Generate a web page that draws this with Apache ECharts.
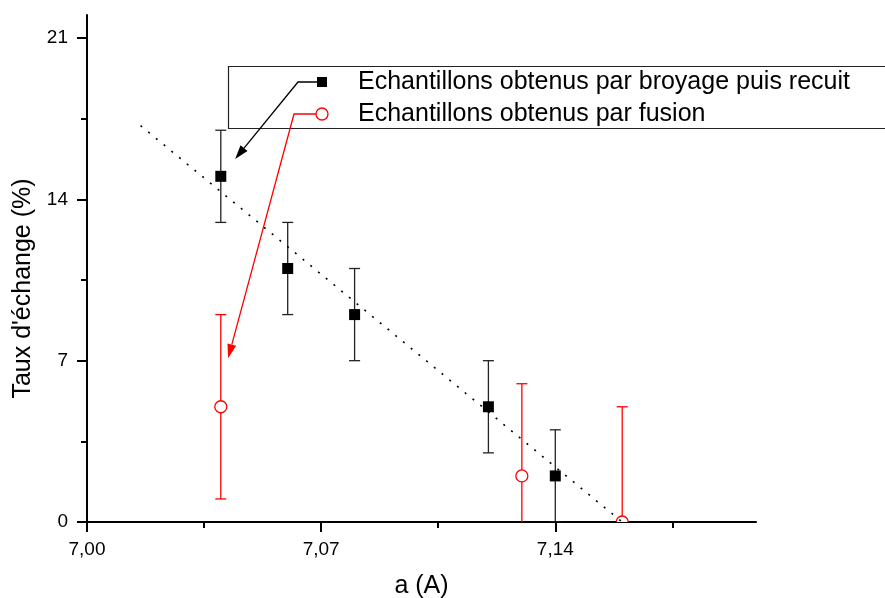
<!DOCTYPE html>
<html><head><meta charset="utf-8">
<script src="https://cdn.jsdelivr.net/npm/echarts@6/dist/echarts.min.js"></script>
<style>html,body{margin:0;padding:0;background:#fff;overflow:hidden}#c{width:885px;height:598px}</style>
</head><body><div id="c"></div>
<script>
const seriesNames = ['Echantillons obtenus par broyage puis recuit', 'Echantillons obtenus par fusion'];
const xTitle = 'a (A)';
const yTitle = "Taux d'échange (%)";
const broyX = [7.04, 7.06, 7.08, 7.12, 7.14];
const broyY = [15, 11, 9, 5, 2];
const broyErr = [2, 2, 2, 2, 2];
const fusionX = [7.04, 7.13, 7.16];
const fusionY = [5, 2, 0];
const fusionErr = [4, 4, 5];
const fitX = [7.016, 7.16];
const fitY = [17.2, 0];
const xMajorTicks = [7.00, 7.07, 7.14];
const xMinorTicks = [7.035, 7.105, 7.175];
const yMajorTicks = [0, 7, 14, 21];
const yMinorTicks = [3.5, 10.5, 17.5];
const arrowTips = [[7.0443, 15.75], [7.0422, 7.11]];

const FONT = "'Liberation Sans', Arial, sans-serif";
const RED = '#ff0000';
const chart = echarts.init(document.getElementById('c'), null, {renderer: 'canvas'});

function errRender(color, kind) {
  return function (params, api) {
    const x = api.value(0), y = api.value(1), e = api.value(2);
    const top = api.coord([x, y + e]);
    const bot = api.coord([x, y - e]);
    const c = api.coord([x, y]);
    const cw = 5.5;
    const st = {stroke: color, lineWidth: 1.3};
    const children = [
      {type: 'line', shape: {x1: top[0], y1: top[1], x2: bot[0], y2: bot[1]}, style: st},
      {type: 'line', shape: {x1: top[0] - cw, y1: top[1], x2: top[0] + cw, y2: top[1]}, style: st},
      {type: 'line', shape: {x1: bot[0] - cw, y1: bot[1], x2: bot[0] + cw, y2: bot[1]}, style: st}
    ];
    if (kind === 'square') {
      children.push({type: 'rect', shape: {x: c[0] - 5.5, y: c[1] - 5.5, width: 11, height: 11}, style: {fill: '#000'}});
    } else {
      children.push({type: 'circle', shape: {cx: c[0], cy: c[1], r: 6}, style: {fill: '#fff', stroke: color, lineWidth: 1.3}});
    }
    return {type: 'group', children: children};
  };
}

const fmt = v => v.toFixed(2).replace('.', ',');
const gridBox = {left: 87, right: 129, top: 15, bottom: 76, outerBoundsMode: 'none', containLabel: false};

const option = {
  animation: false,
  backgroundColor: '#fff',
  grid: [Object.assign({}, gridBox), Object.assign({}, gridBox)],
  xAxis: [
    {
      type: 'value', gridIndex: 0, min: 7.0, max: 7.2,
      name: xTitle, nameLocation: 'middle', nameGap: 52,
      nameTextStyle: {fontSize: 25, fontFamily: FONT, color: '#000'},
      splitLine: {show: false},
      axisLine: {onZero: false, lineStyle: {color: '#000', width: 2}},
      axisTick: {show: true, length: 10, lineStyle: {color: '#000', width: 2}, customValues: xMajorTicks},
      axisLabel: {fontSize: 19, fontFamily: FONT, color: '#000', margin: 18, customValues: xMajorTicks, formatter: fmt}
    },
    {
      type: 'value', gridIndex: 1, min: 7.0, max: 7.2,
      splitLine: {show: false},
      axisLine: {show: false, onZero: false},
      axisTick: {show: true, length: 6, lineStyle: {color: '#000', width: 2}, customValues: xMinorTicks},
      axisLabel: {show: false}
    }
  ],
  yAxis: [
    {
      type: 'value', gridIndex: 0, min: 0, max: 22,
      name: yTitle, nameLocation: 'middle', nameGap: 50,
      nameTextStyle: {fontSize: 25, fontFamily: FONT, color: '#000', padding: [0, 40, 0, 0]},
      splitLine: {show: false},
      axisLine: {onZero: false, lineStyle: {color: '#000', width: 2}},
      axisTick: {show: true, length: 10, lineStyle: {color: '#000', width: 2}, customValues: yMajorTicks},
      axisLabel: {fontSize: 19, fontFamily: FONT, color: '#000', margin: 19, customValues: yMajorTicks}
    },
    {
      type: 'value', gridIndex: 1, min: 0, max: 22,
      splitLine: {show: false},
      axisLine: {show: false, onZero: false},
      axisTick: {show: true, length: 6, lineStyle: {color: '#000', width: 2}, customValues: yMinorTicks},
      axisLabel: {show: false}
    }
  ],
  series: [
    {
      name: 'fit', type: 'line', xAxisIndex: 0, yAxisIndex: 0, symbol: 'none', silent: true,
      data: fitX.map((x, i) => [x, fitY[i]]),
      lineStyle: {color: '#000', width: 1.6, type: [2, 8]}, z: 3
    },
    {
      name: seriesNames[0], type: 'custom', xAxisIndex: 0, yAxisIndex: 0, clip: true,
      renderItem: errRender('#222', 'square'),
      encode: {x: 0, y: 1},
      data: broyX.map((x, i) => [x, broyY[i], broyErr[i]]), z: 2
    },
    {
      name: seriesNames[1], type: 'custom', xAxisIndex: 0, yAxisIndex: 0, clip: true,
      renderItem: errRender(RED, 'circle'),
      encode: {x: 0, y: 1},
      data: fusionX.map((x, i) => [x, fusionY[i], fusionErr[i]]), z: 2
    }
  ]
};
chart.setOption(option);

function arrow(start, corner, tip, color) {
  const dx = tip[0] - corner[0], dy = tip[1] - corner[1];
  const L = Math.sqrt(dx * dx + dy * dy);
  const ux = dx / L, uy = dy / L;
  const hl = 14, hw = 4.5;
  const bx = tip[0] - ux * hl, by = tip[1] - uy * hl;
  const px = -uy, py = ux;
  return [
    {type: 'polyline', shape: {points: [start, corner, [bx, by]]}, style: {stroke: color, lineWidth: 1.3, fill: null}, z: 10},
    {type: 'polygon', shape: {points: [tip, [bx + px * hw, by + py * hw], [bx - px * hw, by - py * hw]]}, style: {fill: color}, z: 10}
  ];
}
const tip0 = chart.convertToPixel({gridIndex: 0}, arrowTips[0]);
const tip1 = chart.convertToPixel({gridIndex: 0}, arrowTips[1]);
const graphics = [
  {type: 'rect', shape: {x: 228.5, y: 66.5, width: 700, height: 62}, style: {fill: '#fff', stroke: '#222', lineWidth: 1.2}, z: 5},
  {type: 'rect', shape: {x: 317, y: 77, width: 10, height: 10}, style: {fill: '#000'}, z: 11},
  {type: 'circle', shape: {cx: 322, cy: 114, r: 6}, style: {fill: '#fff', stroke: RED, lineWidth: 1.3}, z: 11},
  {type: 'text', x: 358, y: 82, style: {text: seriesNames[0], fontSize: 25, fontFamily: FONT, fill: '#000', verticalAlign: 'middle'}, z: 11},
  {type: 'text', x: 358, y: 114, style: {text: seriesNames[1], fontSize: 25, fontFamily: FONT, fill: '#000', verticalAlign: 'middle'}, z: 11}
].concat(arrow([318, 82], [298, 82], tip0, '#000'))
 .concat(arrow([316, 114], [294, 114], tip1, RED));
chart.setOption({graphic: graphics});
</script>
</body></html>
